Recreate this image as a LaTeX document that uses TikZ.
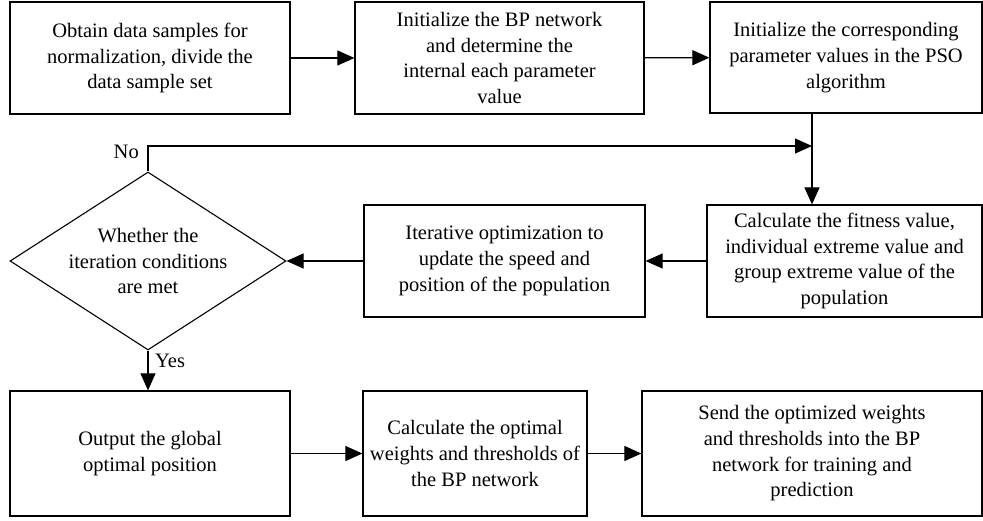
\documentclass[tikz,border=0pt]{standalone}
\usepackage{fontspec}
\setmainfont{Liberation Serif}
\usetikzlibrary{arrows.meta,shapes.geometric,calc}
\begin{document}
\begin{tikzpicture}[x=1pt,y=-1pt,
  every node/.style={font=\fontsize{20.5}{25.7}\selectfont, align=center, inner sep=0pt},
  box/.style={draw, line width=1.2pt, rectangle},
  arr/.style={line width=1.1pt, -{Triangle[length=17pt,width=15pt]}},
  ln/.style={line width=1.1pt}]
\useasboundingbox (0,0) rectangle (983,521);
\node[box, minimum width=280pt, minimum height=112pt] (b1) at (150,58) {Obtain data samples for\\normalization, divide the\\data sample set};
\node[box, minimum width=289pt, minimum height=112pt] (b2) at (499.5,58) {Initialize the BP network\\and determine the\\internal each parameter\\value};
\node[box, minimum width=272pt, minimum height=111pt] (b3) at (846,57.5) {Initialize the corresponding\\parameter values in the PSO\\algorithm};
\node[box, minimum width=275pt, minimum height=112pt] (b4) at (844.5,261) {Calculate the fitness value,\\individual extreme value and\\group extreme value of the\\population};
\node[box, minimum width=281pt, minimum height=112pt] (b5) at (504.5,261) {Iterative optimization to\\update the speed and\\position of the population};
\node[draw, line width=1.1pt, minimum width=276pt, minimum height=178pt, shape=diamond, inner sep=0pt] (d) at (148,261) {};
\node (dt) at (148,261) {Whether the\\iteration conditions\\are met};
\node[box, minimum width=280pt, minimum height=125pt] (b6) at (150,453.5) {Output the global\\optimal position};
\node[box, minimum width=224pt, minimum height=125pt] (b7) at (475,453.5) {Calculate the optimal\\weights and thresholds of\\the BP network};
\node[box, minimum width=340pt, minimum height=125pt] (b8) at (812,453.5) {Send the optimized weights\\and thresholds into the BP\\network for training and\\prediction};
\coordinate (m) at (812,146);
\draw[arr] (b1) -- (b2);
\draw[arr] (b2) -- (b3);
\draw[arr] (b3.south -| m) -- (b4.north -| m);
\draw[arr] (b4) -- (b5);
\draw[arr] (b5) -- (d.east);
\draw[arr] (d.north) |- (m);
\draw[arr] (d.south) -- (d.south |- b6.north);
\draw[arr] (b6) -- (b7);
\draw[arr] (b7) -- (b8);
\node[anchor=east] (no) at (139,152) {No};
\node[anchor=west] (yes) at (155,361) {Yes};
\end{tikzpicture}
\end{document}
